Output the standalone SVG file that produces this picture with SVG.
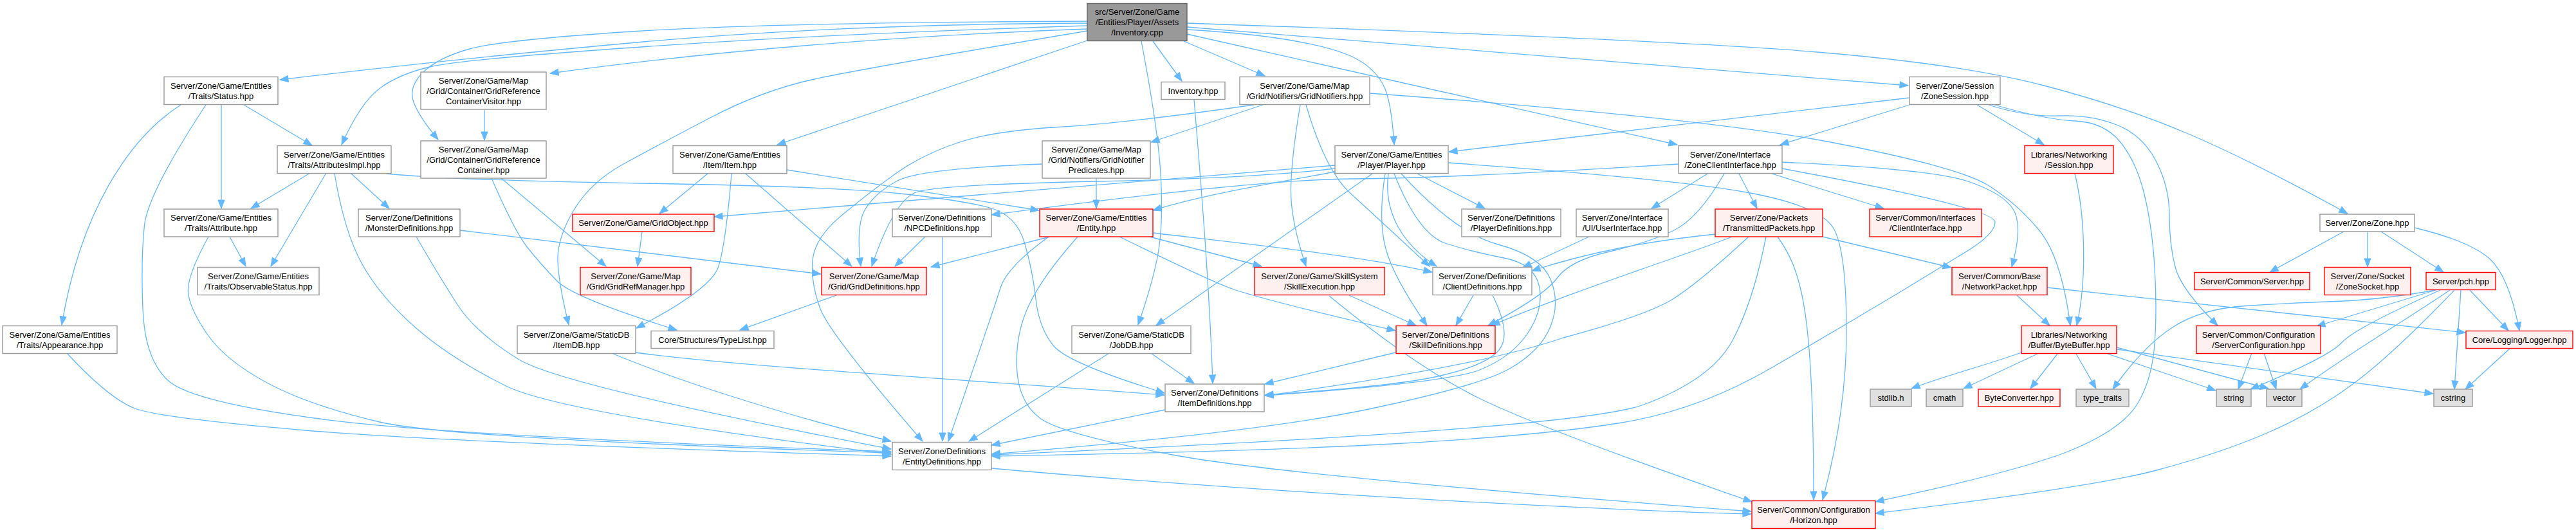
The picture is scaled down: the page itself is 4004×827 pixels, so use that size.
<svg xmlns="http://www.w3.org/2000/svg" width="4004" height="827" viewBox="0 0 4004 827">
<defs>
<marker id="a" markerUnits="userSpaceOnUse" markerWidth="14" markerHeight="11" refX="13" refY="5" orient="auto" overflow="visible"><path d="M0,0 L13,5 L0,10 Z" fill="#63B8FF" stroke="#63B8FF" stroke-width="1"/></marker>
<style>
.n rect{fill:#FFFFFF;stroke:#999999;stroke-width:1.4}
.r rect{fill:#FFF0F0;stroke:#FF0000;stroke-width:1.4}
.g rect{fill:#E0E0E0;stroke:#999999;stroke-width:1.4}
.root rect{fill:#999999;stroke:#666666;stroke-width:1.4}
text{font-family:"Liberation Sans",Arial,Helvetica,sans-serif;font-size:13px;text-anchor:middle;fill:#000000}
#edges path{fill:none;stroke:#63B8FF;stroke-width:1.3;marker-end:url(#a)}
</style>
</defs>
<rect width="4004" height="827" fill="#FFFFFF"/>
<g id="edges">
<path d="M1690,36 Q1300,38 1000,65 Q700,92 435,124"/>
<path d="M1690,40 Q1300,52 1010,72 Q720,92 670,103.5 Q620,115 590,137.5 Q560,160 531,225"/>
<path d="M1690,33 Q1200,35 990,48.5 Q780,62 730,76 Q680,90 657.5,112.5 Q635,135 642.5,157.5 Q650,180 681,217"/>
<path d="M1690,45 C1400,55 1100,80 855,114"/>
<path d="M1690,48 Q1350,105 1268,122.5 Q1186,140 1103,183.5 Q1020,227 969,255 Q918,283 892,326.5 Q866,370 867,405 Q868,440 884,505"/>
<path d="M1690,63 L1208,225"/>
<path d="M1774,64 Q1800,200 1804,270 Q1808,340 1801.5,385 Q1795,430 1769,505"/>
<path d="M1792,64 L1837,126"/>
<path d="M1840,64 L1966,118"/>
<path d="M1845,46 Q1950,52 2017,64.5 Q2084,77 2112,93.5 Q2140,110 2151.5,135 Q2163,160 2167,225"/>
<path d="M1845,53 L2607,225"/>
<path d="M1845,42 L2966,133"/>
<path d="M1845,36 Q2600,62 2825,81 Q3050,100 3175,132.5 Q3300,165 3400,207.5 Q3500,250 3649,332"/>
<path d="M281,163 C200,215 125,330 96,505"/>
<path d="M320,163 Q230,300 224.5,350 Q219,400 222,480 Q225,560 262.5,592.5 Q300,625 500,651.5 Q700,678 1385,702"/>
<path d="M344,163 L344,324"/>
<path d="M379,163 L485,226"/>
<path d="M482,269 L390,324"/>
<path d="M507,269 L421,414"/>
<path d="M520,270 Q535,360 562.5,410 Q590,460 645,508.5 Q700,557 786.5,600 Q873,643 1385,706"/>
<path d="M545,269 L605,324"/>
<path d="M600,270 Q700,280 1000,285 Q1300,290 1400,301 Q1500,312 1540,323.5 Q1580,335 1592.5,377.5 Q1605,420 1610,465 Q1615,510 1637.5,537.5 Q1660,565 1810,611"/>
<path d="M357,368 L382,414"/>
<path d="M324,368 Q290,430 292.5,455 Q295,480 322.5,520 Q350,560 415,595 Q480,630 590,656 Q700,682 1385,704"/>
<path d="M105,550 Q170,620 210,635 Q250,650 475,669 Q700,688 1385,709"/>
<path d="M715,358 L1276,426"/>
<path d="M647,368 Q683,430 711,473.5 Q739,517 806,558.5 Q873,600 1385,698"/>
<path d="M753,171 L753,218"/>
<path d="M779,277 L942,414"/>
<path d="M764,277 Q800,360 820,385 Q840,410 865.5,436.5 Q891,463 1052,513"/>
<path d="M1101,269 L1025,332"/>
<path d="M1137,270 Q1128,380 1116.5,415 Q1105,450 989,510"/>
<path d="M1159,270 L1324,414"/>
<path d="M1223,264 L1615,327"/>
<path d="M998,360 L991,414"/>
<path d="M1300,459 L1150,513"/>
<path d="M953,550 C1050,590 1200,640 1385,686"/>
<path d="M988,548 C1150,570 1500,590 1810,614"/>
<path d="M1704,277 L1704,324"/>
<path d="M1620,255 Q1430,262 1395,281 Q1360,300 1345,325 Q1330,350 1338,414"/>
<path d="M1963,163 L1789,221"/>
<path d="M1949,163 Q1746,192 1646,197.5 Q1546,203 1490,221.5 Q1434,240 1392,270 Q1350,300 1308,335 Q1266,370 1263,405 Q1260,440 1275,480 Q1290,520 1434,686"/>
<path d="M2021,163 Q2008,240 2006.5,290 Q2005,340 2030,414"/>
<path d="M2030,163 Q2060,265 2098.5,300 Q2137,335 2222,414"/>
<path d="M2129,145 Q2650,183 2848,221.5 Q3046,260 3091,288.5 Q3136,317 3170,358.5 Q3204,400 3218,506"/>
<path d="M1438,368 L1391,414"/>
<path d="M1465,368 L1465,686"/>
<path d="M1632,368 L1447,415"/>
<path d="M1630,368 Q1565,415 1555,447.5 Q1545,480 1474,686"/>
<path d="M1675,368 Q1620,430 1599,475 Q1578,520 1580.5,572.5 Q1583,625 1616.5,650 Q1650,675 1825,707.5 Q2000,740 2722,795"/>
<path d="M1787,368 L1961,414"/>
<path d="M1792,362 C1900,375 2100,395 2226,423"/>
<path d="M1740,368 Q1867,430 1908.5,446.5 Q1950,463 2169,514"/>
<path d="M1724,549 L1506,686"/>
<path d="M1789,549 L1856,596"/>
<path d="M1856,155 C1868,300 1880,450 1885,596"/>
<path d="M1811,637 L1541,692"/>
<path d="M2075,257 L1110,337"/>
<path d="M2075,262 Q1950,277 1705,282 Q1460,287 1425,298.5 Q1390,310 1355,414"/>
<path d="M2075,267 C1980,285 1880,300 1792,327"/>
<path d="M2609,255 Q2254,277 2102,278 Q1950,279 1541,334"/>
<path d="M2133,270 L1797,506"/>
<path d="M2153,270 Q2142,340 2153.5,385 Q2165,430 2218,506"/>
<path d="M2158,270 C2150,330 2180,380 2233,414"/>
<path d="M2167,270 Q2205,365 2247.5,378.5 Q2290,392 2337.5,401 Q2385,410 2392.5,445 Q2400,480 2375,517.5 Q2350,555 2300,575 Q2250,595 1966,615"/>
<path d="M2178,270 Q2262,362 2328.5,380 Q2395,398 2410,434 Q2425,470 2410,507.5 Q2395,545 2347.5,572.5 Q2300,600 2125,636.5 Q1950,673 1541,706"/>
<path d="M2203,270 L2308,324"/>
<path d="M2251,253 Q2600,278 2715,299 Q2830,320 2850,355 Q2870,390 2870,515 Q2870,640 2833,777"/>
<path d="M2968,152 L2252,236"/>
<path d="M2968,163 L2767,225"/>
<path d="M3073,163 L3177,225"/>
<path d="M3091,163 Q3150,182 3200,180 Q3250,178 3290,194 Q3330,210 3351,250 Q3372,290 3372,335 Q3372,380 3381,415 Q3390,450 3447,506"/>
<path d="M3100,163 Q3180,186 3225,188 Q3270,190 3295,220 Q3320,250 3332.5,300 Q3345,350 3349,415 Q3353,480 3349,535 Q3345,590 3322.5,627.5 Q3300,665 3225,697.5 Q3150,730 2915,780"/>
<path d="M2654,270 L2567,324"/>
<path d="M2703,270 L2731,324"/>
<path d="M2754,270 L2928,324"/>
<path d="M2770,262 Q3100,323 3101,345 Q3102,365 3044,398.5 Q2990,432 2929,468.5 Q2868,505 2754,571.5 Q2640,638 2518,657.5 Q2396,677 2173,689.5 Q1950,702 1541,709"/>
<path d="M2770,252 Q3002,263 3057.5,281.5 Q3113,300 3129,325 Q3145,350 3127,415"/>
<path d="M2680,270 Q2640,340 2600,359 Q2560,378 2500,391.5 Q2440,405 2420,432.5 Q2400,460 2313,506"/>
<path d="M2666,364 C2560,375 2470,392 2381,421"/>
<path d="M2692,368 C2640,390 2450,450 2318,506"/>
<path d="M2718,368 Q2640,440 2600,465 Q2560,490 2430,525 Q2300,570 1966,615"/>
<path d="M2745,368 Q2725,470 2692.5,530 Q2660,590 2555,629 Q2450,668 1541,707"/>
<path d="M2763,368 C2800,420 2819,480 2819,777"/>
<path d="M2833,368 L3033,416"/>
<path d="M3135,459 L3186,506"/>
<path d="M3182,447 L3832,517"/>
<path d="M3225,270 C3240,330 3245,430 3228,506"/>
<path d="M3142,548 C3080,570 3020,585 2971,604"/>
<path d="M3167,550 L3052,604"/>
<path d="M3198,550 L3156,604"/>
<path d="M3227,550 L3258,604"/>
<path d="M3276,550 L3444,607"/>
<path d="M3290,540 L3526,604"/>
<path d="M3290,543 L3782,612"/>
<path d="M2097,459 L2201,506"/>
<path d="M2066,460 Q2200,570 2298,618.5 Q2396,667 2723,780"/>
<path d="M2290,459 L2263,506"/>
<path d="M2320,459 Q2350,520 2330,544 Q2310,568 2239,584 Q2173,600 1966,614"/>
<path d="M2470,368 L2367,416"/>
<path d="M1541,728 C1900,760 2400,790 2722,799"/>
<path d="M2169,548 L1966,597"/>
<path d="M3643,360 L3528,423"/>
<path d="M3680,360 L3680,415"/>
<path d="M3701,360 L3798,423"/>
<path d="M3753,354 Q3840,375 3870,402.5 Q3900,430 3916,514"/>
<path d="M3786,451 Q3700,466 3630,468.5 Q3560,471 3490,475.5 Q3420,480 3375,510 Q3330,540 3284,605"/>
<path d="M3786,451 L3601,507"/>
<path d="M3793,451 Q3660,510 3640,532.5 Q3620,555 3498,605"/>
<path d="M3808,451 C3720,510 3650,550 3575,605"/>
<path d="M3815,451 Q3720,550 3660,595 Q3600,640 3525,672.5 Q3450,705 3350,731.5 Q3250,758 2915,798"/>
<path d="M3825,451 L3815,605"/>
<path d="M3839,451 L3899,514"/>
<path d="M3500,549 L3479,605"/>
<path d="M3519,549 L3538,605"/>
<path d="M3902,541 L3832,605"/>
</g>
<g id="root" class="root"><rect x="1690" y="5.5" width="155" height="58"/><text x="1767.5" y="23">src/Server/Zone/Game</text><text x="1767.5" y="39">/Entities/Player/Assets</text><text x="1767.5" y="55">/Inventory.cpp</text></g>
<g id="status" class="n"><rect x="255" y="119.5" width="177" height="43"/><text x="343.5" y="137.5">Server/Zone/Game/Entities</text><text x="343.5" y="153.5">/Traits/Status.hpp</text></g>
<g id="attributesimpl" class="n"><rect x="431" y="226.5" width="177" height="43"/><text x="519.5" y="244.5">Server/Zone/Game/Entities</text><text x="519.5" y="260.5">/Traits/AttributesImpl.hpp</text></g>
<g id="attribute" class="n"><rect x="255" y="325" width="177" height="43"/><text x="343.5" y="343">Server/Zone/Game/Entities</text><text x="343.5" y="359">/Traits/Attribute.hpp</text></g>
<g id="monsterdefs" class="n"><rect x="557" y="325" width="158" height="43"/><text x="636" y="343">Server/Zone/Definitions</text><text x="636" y="359">/MonsterDefinitions.hpp</text></g>
<g id="observablestatus" class="n"><rect x="307" y="415.5" width="189" height="43"/><text x="401.5" y="433.5">Server/Zone/Game/Entities</text><text x="401.5" y="449.5">/Traits/ObservableStatus.hpp</text></g>
<g id="appearance" class="n"><rect x="4" y="506.5" width="178" height="43"/><text x="93" y="524.5">Server/Zone/Game/Entities</text><text x="93" y="540.5">/Traits/Appearance.hpp</text></g>
<g id="visitor" class="n"><rect x="654" y="112" width="195" height="58"/><text x="751.5" y="129.5">Server/Zone/Game/Map</text><text x="751.5" y="145.5">/Grid/Container/GridReference</text><text x="751.5" y="161.5">ContainerVisitor.hpp</text></g>
<g id="container" class="n"><rect x="654" y="219" width="195" height="58"/><text x="751.5" y="236.5">Server/Zone/Game/Map</text><text x="751.5" y="252.5">/Grid/Container/GridReference</text><text x="751.5" y="268.5">Container.hpp</text></g>
<g id="item" class="n"><rect x="1046" y="226.5" width="177" height="43"/><text x="1134.5" y="244.5">Server/Zone/Game/Entities</text><text x="1134.5" y="260.5">/Item/Item.hpp</text></g>
<g id="gridobject" class="r"><rect x="890" y="333" width="220" height="27"/><text x="1000" y="351">Server/Zone/Game/GridObject.hpp</text></g>
<g id="gridrefmanager" class="r"><rect x="902" y="415.5" width="172" height="43"/><text x="988" y="433.5">Server/Zone/Game/Map</text><text x="988" y="449.5">/Grid/GridRefManager.hpp</text></g>
<g id="griddefs" class="r"><rect x="1277" y="415.5" width="163" height="43"/><text x="1358.5" y="433.5">Server/Zone/Game/Map</text><text x="1358.5" y="449.5">/Grid/GridDefinitions.hpp</text></g>
<g id="itemdb" class="n"><rect x="804" y="506.5" width="184" height="43"/><text x="896" y="524.5">Server/Zone/Game/StaticDB</text><text x="896" y="540.5">/ItemDB.hpp</text></g>
<g id="typelist" class="n"><rect x="1012" y="514.5" width="191" height="27"/><text x="1107.5" y="532.5">Core/Structures/TypeList.hpp</text></g>
<g id="inventoryhpp" class="n"><rect x="1805" y="127.5" width="99" height="27"/><text x="1854.5" y="145.5">Inventory.hpp</text></g>
<g id="gridnotifiers" class="n"><rect x="1927" y="119.5" width="202" height="43"/><text x="2028" y="137.5">Server/Zone/Game/Map</text><text x="2028" y="153.5">/Grid/Notifiers/GridNotifiers.hpp</text></g>
<g id="predicates" class="n"><rect x="1620" y="219" width="168" height="58"/><text x="1704" y="236.5">Server/Zone/Game/Map</text><text x="1704" y="252.5">/Grid/Notifiers/GridNotifier</text><text x="1704" y="268.5">Predicates.hpp</text></g>
<g id="npcdefs" class="n"><rect x="1387" y="325" width="154" height="43"/><text x="1464" y="343">Server/Zone/Definitions</text><text x="1464" y="359">/NPCDefinitions.hpp</text></g>
<g id="entity" class="r"><rect x="1616" y="325" width="176" height="43"/><text x="1704" y="343">Server/Zone/Game/Entities</text><text x="1704" y="359">/Entity.hpp</text></g>
<g id="entitydefs" class="n"><rect x="1387" y="687.5" width="154" height="43"/><text x="1464" y="705.5">Server/Zone/Definitions</text><text x="1464" y="721.5">/EntityDefinitions.hpp</text></g>
<g id="jobdb" class="n"><rect x="1666" y="506.5" width="185" height="43"/><text x="1758.5" y="524.5">Server/Zone/Game/StaticDB</text><text x="1758.5" y="540.5">/JobDB.hpp</text></g>
<g id="itemdefs" class="n"><rect x="1811" y="597" width="154" height="43"/><text x="1888" y="615">Server/Zone/Definitions</text><text x="1888" y="631">/ItemDefinitions.hpp</text></g>
<g id="player" class="n"><rect x="2075" y="226.5" width="176" height="43"/><text x="2163" y="244.5">Server/Zone/Game/Entities</text><text x="2163" y="260.5">/Player/Player.hpp</text></g>
<g id="playerdefs" class="n"><rect x="2272" y="325" width="154" height="43"/><text x="2349" y="343">Server/Zone/Definitions</text><text x="2349" y="359">/PlayerDefinitions.hpp</text></g>
<g id="userinterface" class="n"><rect x="2450" y="325" width="143" height="43"/><text x="2521.5" y="343">Server/Zone/Interface</text><text x="2521.5" y="359">/UI/UserInterface.hpp</text></g>
<g id="skillexecution" class="r"><rect x="1950" y="415.5" width="202" height="43"/><text x="2051" y="433.5">Server/Zone/Game/SkillSystem</text><text x="2051" y="449.5">/SkillExecution.hpp</text></g>
<g id="clientdefs" class="n"><rect x="2227" y="415.5" width="154" height="43"/><text x="2304" y="433.5">Server/Zone/Definitions</text><text x="2304" y="449.5">/ClientDefinitions.hpp</text></g>
<g id="skilldefs" class="r"><rect x="2170" y="506.5" width="154" height="43"/><text x="2247" y="524.5">Server/Zone/Definitions</text><text x="2247" y="540.5">/SkillDefinitions.hpp</text></g>
<g id="zonesession" class="n"><rect x="2968" y="119.5" width="141" height="43"/><text x="3038.5" y="137.5">Server/Zone/Session</text><text x="3038.5" y="153.5">/ZoneSession.hpp</text></g>
<g id="zoneclientinterface" class="n"><rect x="2609" y="226.5" width="161" height="43"/><text x="2689.5" y="244.5">Server/Zone/Interface</text><text x="2689.5" y="260.5">/ZoneClientInterface.hpp</text></g>
<g id="session" class="r"><rect x="3147" y="226.5" width="138" height="43"/><text x="3216" y="244.5">Libraries/Networking</text><text x="3216" y="260.5">/Session.hpp</text></g>
<g id="transmittedpackets" class="r"><rect x="2666" y="325" width="167" height="43"/><text x="2749.5" y="343">Server/Zone/Packets</text><text x="2749.5" y="359">/TransmittedPackets.hpp</text></g>
<g id="clientinterface" class="r"><rect x="2906" y="325" width="174" height="43"/><text x="2993" y="343">Server/Common/Interfaces</text><text x="2993" y="359">/ClientInterface.hpp</text></g>
<g id="networkpacket" class="r"><rect x="3034" y="415.5" width="148" height="43"/><text x="3108" y="433.5">Server/Common/Base</text><text x="3108" y="449.5">/NetworkPacket.hpp</text></g>
<g id="bytebuffer" class="r"><rect x="3142" y="506.5" width="148" height="43"/><text x="3216" y="524.5">Libraries/Networking</text><text x="3216" y="540.5">/Buffer/ByteBuffer.hpp</text></g>
<g id="stdlib" class="g"><rect x="2907" y="605" width="64" height="27"/><text x="2939" y="623">stdlib.h</text></g>
<g id="cmath" class="g"><rect x="2994" y="605" width="57" height="27"/><text x="3022.5" y="623">cmath</text></g>
<g id="byteconverter" class="r"><rect x="3075" y="605" width="127" height="27"/><text x="3138.5" y="623">ByteConverter.hpp</text></g>
<g id="typetraits" class="g"><rect x="3227" y="605" width="82" height="27"/><text x="3268" y="623">type_traits</text></g>
<g id="horizon" class="r"><rect x="2723" y="778.5" width="192" height="43"/><text x="2819" y="796.5">Server/Common/Configuration</text><text x="2819" y="812.5">/Horizon.hpp</text></g>
<g id="zone" class="n"><rect x="3606" y="333" width="147" height="27"/><text x="3679.5" y="351">Server/Zone/Zone.hpp</text></g>
<g id="server" class="r"><rect x="3411" y="423.5" width="179" height="27"/><text x="3500.5" y="441.5">Server/Common/Server.hpp</text></g>
<g id="zonesocket" class="r"><rect x="3613" y="415.5" width="134" height="43"/><text x="3680" y="433.5">Server/Zone/Socket</text><text x="3680" y="449.5">/ZoneSocket.hpp</text></g>
<g id="pch" class="r"><rect x="3771" y="423.5" width="108" height="27"/><text x="3825" y="441.5">Server/pch.hpp</text></g>
<g id="serverconfiguration" class="r"><rect x="3414" y="506.5" width="193" height="43"/><text x="3510.5" y="524.5">Server/Common/Configuration</text><text x="3510.5" y="540.5">/ServerConfiguration.hpp</text></g>
<g id="logger" class="r"><rect x="3833" y="514.5" width="166" height="27"/><text x="3916" y="532.5">Core/Logging/Logger.hpp</text></g>
<g id="string" class="g"><rect x="3445" y="605" width="54" height="27"/><text x="3472" y="623">string</text></g>
<g id="vector" class="g"><rect x="3523" y="605" width="55" height="27"/><text x="3550.5" y="623">vector</text></g>
<g id="cstring" class="g"><rect x="3783" y="605" width="60" height="27"/><text x="3813" y="623">cstring</text></g>
</svg>
